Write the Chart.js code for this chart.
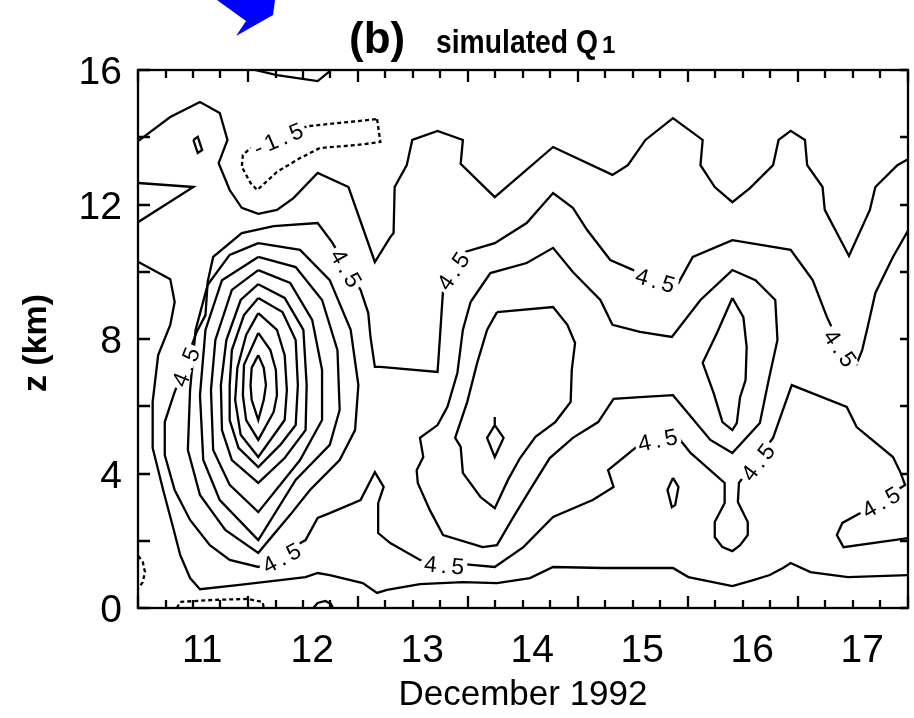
<!DOCTYPE html>
<html>
<head>
<meta charset="utf-8">
<title>simulated Q1</title>
<script src="https://cdn.jsdelivr.net/npm/chart.js@4.4.1/dist/chart.umd.min.js"></script>
<style>
  html, body { margin: 0; padding: 0; background: #ffffff; }
  #wrap { width: 914px; height: 718px; position: relative; }
</style>
</head>
<body>
<div id="wrap"><canvas id="chart"></canvas></div>
<script>
// Time axis in days of December 1992 (frame runs 10:00 to 10:00), height in km
const dayStart = 10 + 10 / 24;
const dayEnd = 17 + 10 / 24;
const dayLabels = [11, 12, 13, 14, 15, 16, 17];
const heightLabels = [0, 4, 8, 12, 16];
const heightTickStep = 2;     // km between height tick marks
const timeTickStep = 0.25;    // days between time tick marks

// Contour lines of Q1, each a list of [day, km] vertices
const contourUpper = [[10.42,13.89],[10.71,14.60],[10.98,15.05],[11.16,14.72],[11.23,13.92],[11.15,13.23],[11.25,12.43],[11.36,11.90],[11.51,11.72],[11.68,11.84],[11.83,12.19],[12.05,12.94],[12.33,12.52],[12.57,10.29],[12.71,11.03],[12.74,11.15],[12.75,12.52],[12.86,13.17],[12.91,13.92],[13.14,14.19],[13.37,13.92],[13.35,13.21],[13.66,12.22],[14.19,13.71],[14.73,12.88],[14.87,13.17],[15.03,13.92],[15.28,14.57],[15.55,13.92],[15.53,13.17],[15.66,12.52],[15.82,12.07],[15.98,12.49],[16.19,13.17],[16.24,13.92],[16.35,14.19],[16.48,13.92],[16.50,13.17],[16.64,12.52],[16.66,11.84],[16.88,10.47],[17.07,11.84],[17.12,12.52],[17.32,13.17],[17.42,13.35]];
const contourTopEdge = [[11.48,16.0],[11.68,15.85],[12.05,15.67],[12.15,15.94],[12.16,16.0]];
const contourSmallUpper = [[10.92,13.92],[10.96,14.01],[11.0,13.62],[10.96,13.53],[10.92,13.92]];
const contourWedge = [[10.42,12.64],[10.92,12.52],[10.42,11.48]];
const contourNeg15 = [[12.59,14.54],[12.62,13.86],[12.41,13.77],[12.07,13.68],[11.89,13.38],[11.68,12.97],[11.50,12.43],[11.44,12.64],[11.36,13.12],[11.37,13.47],[11.44,13.68],[11.96,14.33],[12.23,14.42],[12.59,14.54]];
const contourLower = [[10.42,10.29],[10.71,9.78],[10.75,9.10],[10.71,8.42],[10.60,7.52],[10.55,6.13],[10.55,4.76],[10.65,3.45],[10.73,2.47],[10.80,1.58],[10.89,0.89],[10.98,0.56],[11.32,0.68],[11.71,0.83],[11.94,0.92],[12.05,1.04],[12.16,0.98],[12.46,0.74],[12.59,0.45],[12.68,0.54],[12.98,0.71],[13.37,0.77],[13.68,0.74],[13.98,0.89],[14.19,1.22],[14.65,1.19],[15.28,1.19],[15.42,0.92],[15.82,0.65],[16.01,0.83],[16.16,0.98],[16.28,1.19],[16.35,1.34],[16.53,1.07],[16.87,0.92],[17.42,0.98]];
const contour45 = [[17.42,11.24],[17.28,10.44],[17.12,9.37],[17.05,8.36],[17.00,7.67],[16.95,7.26],[16.80,7.82],[16.68,8.65],[16.55,9.75],[16.35,10.65],[15.82,10.94],[15.46,10.44],[15.33,9.67],[14.92,10.05],[14.71,10.35],[14.50,11.24],[14.37,11.90],[14.19,12.34],[13.95,11.45],[13.66,10.85],[13.39,10.59],[13.19,9.46],[13.16,7.97],[13.14,7.02],[12.62,7.17],[12.57,7.17],[12.53,8.06],[12.51,8.77],[12.44,9.46],[12.18,10.88],[12.05,11.45],[11.65,11.36],[11.36,11.15],[11.10,10.44],[11.05,9.70],[11.03,8.71],[10.95,8.21],[10.74,6.33],[10.66,5.53],[10.66,4.55],[10.75,3.51],[10.89,2.62],[11.07,1.87],[11.25,1.43],[11.51,1.22],[11.94,2.02],[12.05,2.68],[12.16,2.82],[12.44,3.21],[12.57,4.04],[12.65,3.60],[12.60,3.12],[12.60,2.23],[12.71,1.93],[12.98,1.43],[13.45,1.28],[13.66,1.22],[13.92,1.81],[14.19,2.71],[14.55,3.21],[14.74,3.60],[14.69,4.10],[14.95,4.79],[15.33,5.06],[15.44,4.61],[15.75,3.72],[15.75,3.12],[15.66,2.56],[15.66,2.11],[15.73,1.81],[15.82,1.69],[15.89,1.87],[15.96,2.17],[15.96,2.56],[15.87,3.15],[15.88,3.72],[16.19,5.06],[16.27,5.80],[16.36,6.63],[16.86,5.98],[16.95,5.38],[17.28,4.49],[17.35,4.02],[17.39,3.66],[16.98,2.82],[16.82,2.53],[16.77,2.17],[16.83,1.81],[17.42,2.08]];

// Closed rings of the heating maximum on 11-12 December, innermost first
const peakRing1 = [[11.51,7.52],[11.56,7.14],[11.58,6.63],[11.56,6.19],[11.51,5.59],[11.45,6.19],[11.44,6.63],[11.45,7.14],[11.51,7.52]];
const peakRing2 = [[11.51,8.18],[11.62,7.67],[11.67,7.08],[11.68,6.33],[11.65,5.83],[11.51,5.00],[11.40,5.59],[11.37,6.33],[11.38,7.23],[11.51,8.18]];
const peakRing3 = [[11.51,8.77],[11.68,8.27],[11.75,7.52],[11.77,6.48],[11.75,5.59],[11.51,4.49],[11.35,5.15],[11.30,6.19],[11.32,7.14],[11.40,8.12],[11.51,8.77]];
const peakRing4 = [[11.51,9.22],[11.73,8.80],[11.85,7.97],[11.87,6.63],[11.85,5.44],[11.71,4.85],[11.51,4.19],[11.33,4.76],[11.25,5.59],[11.25,6.63],[11.27,7.67],[11.38,8.71],[11.51,9.22]];
const peakRing5 = [[11.51,9.63],[11.75,9.22],[11.92,8.27],[11.95,6.63],[11.94,5.29],[11.75,4.46],[11.51,3.72],[11.27,4.40],[11.18,5.29],[11.17,6.63],[11.22,7.97],[11.35,9.16],[11.51,9.63]];
const peakRing6 = [[11.51,10.05],[11.80,9.67],[12.00,8.57],[12.09,7.08],[12.09,5.59],[11.89,4.40],[11.51,2.85],[11.25,3.66],[11.10,4.70],[11.08,6.48],[11.12,7.97],[11.27,9.46],[11.51,10.05]];
const peakRing7 = [[11.51,10.44],[11.85,10.14],[12.09,9.16],[12.23,7.67],[12.25,5.89],[12.16,4.85],[11.85,3.81],[11.51,2.02],[11.16,3.21],[11.01,4.40],[10.98,6.33],[11.03,8.27],[11.18,9.75],[11.51,10.44]];
const peakRing8 = [[11.51,10.85],[11.89,10.65],[12.16,9.75],[12.35,8.27],[12.42,6.63],[12.39,5.29],[12.25,4.40],[11.98,3.51],[11.80,2.77],[11.51,1.64],[11.21,2.32],[10.98,3.36],[10.87,4.70],[10.89,6.48],[10.94,8.27],[11.05,9.61],[11.25,10.50],[11.51,10.85]];

// Rings over 13-16 December
const midDiamond = [[13.66,5.68],[13.66,5.44],[13.74,5.06],[13.66,4.49],[13.59,5.06],[13.66,5.44]];
const midRing = [[13.68,8.80],[14.19,8.95],[14.32,8.42],[14.39,7.88],[14.36,7.08],[14.35,6.13],[14.21,5.53],[14.03,5.09],[13.89,4.46],[13.78,3.81],[13.66,2.97],[13.53,3.30],[13.37,4.02],[13.35,4.79],[13.30,5.06],[13.41,6.13],[13.50,7.29],[13.59,8.27],[13.68,8.80]];
const twinRing = [[13.44,9.10],[13.62,9.96],[13.95,10.26],[14.19,10.71],[14.37,9.99],[14.62,9.16],[14.73,8.42],[14.98,8.21],[15.27,8.06],[15.53,9.16],[15.82,10.05],[16.03,9.75],[16.21,9.16],[16.23,7.97],[16.15,6.78],[16.07,5.50],[15.82,4.61],[15.62,5.00],[15.28,6.33],[14.98,6.27],[14.74,6.22],[14.60,5.53],[14.37,5.06],[14.16,4.46],[13.98,3.51],[13.83,2.71],[13.68,1.87],[13.55,1.81],[13.19,2.17],[13.07,2.91],[12.96,3.72],[12.95,4.10],[13.01,4.49],[12.98,5.06],[13.14,5.44],[13.23,5.98],[13.32,6.99],[13.37,8.27],[13.44,9.10]];
const rightRing = [[15.82,9.22],[15.92,8.65],[15.95,7.76],[15.94,6.78],[15.89,6.27],[15.86,5.50],[15.82,5.29],[15.73,5.53],[15.65,6.39],[15.55,7.29],[15.68,8.18],[15.82,9.22]];
const smallLoopLow = [[15.28,3.87],[15.33,3.60],[15.30,3.06],[15.27,3.00],[15.23,3.51],[15.28,3.87]];

// Near-surface pieces
const dashedLeftEdge = [[10.42,1.55],[10.46,1.37],[10.48,1.07],[10.46,0.77],[10.42,0.59]];
const dashedBottom = [[10.77,0],[10.80,0.18],[11.10,0.24],[11.41,0.27],[11.55,0.18],[11.56,0]];
const bumpBottom = [[12.01,0],[12.05,0.15],[12.12,0.21],[12.17,0.12],[12.19,0]];

// In-line contour labels: text, position [day, km], rotation in degrees
const labelTexts = ['4.5','4.5','4.5','4.5','4.5','4.5','4.5','4.5','4.5','4.5','-1.5'];
const labelDays = [16.80, 15.12, 13.28, 12.31, 10.85, 11.72, 13.20, 15.14, 16.05, 17.17, 11.69];
const labelHeights = [7.73, 9.75, 10.02, 10.11, 7.17, 1.49, 1.28, 5.00, 4.34, 3.15, 13.95];
const labelAngles = [55, 16, -56, 60, -68, -28, 5, -12, -53, -30, -23];

const FONT = '"Liberation Sans", Arial, Helvetica, sans-serif';

function contour(points, dash) {
  return {
    data: points.map(p => ({ x: p[0], y: p[1] })),
    showLine: true,
    borderColor: '#000000',
    borderWidth: 2.3,
    borderDash: dash || [],
    pointRadius: 0,
    pointHoverRadius: 0,
    fill: false,
    tension: 0
  };
}

const solid = [contourUpper, contourTopEdge, contourSmallUpper, contourWedge, contourLower, contour45,
  peakRing1, peakRing2, peakRing3, peakRing4, peakRing5, peakRing6, peakRing7, peakRing8,
  midDiamond, midRing, twinRing, rightRing, smallLoopLow, bumpBottom];
const dashed = [contourNeg15, dashedLeftEdge, dashedBottom];

const datasets = solid.map(p => contour(p)).concat(dashed.map(p => contour(p, [4, 3])));

// Labels that sit on the contours, with the line cut beneath them
const contourLabelPlugin = {
  id: 'contourLabels',
  afterDatasetsDraw(chart) {
    const ctx = chart.ctx, xs = chart.scales.x, ys = chart.scales.y;
    ctx.save();
    ctx.font = '23px ' + FONT;
    const gap = 4;
    labelTexts.forEach((txt, i) => {
      const px = xs.getPixelForValue(labelDays[i]);
      const py = ys.getPixelForValue(labelHeights[i]);
      const chars = txt.split('');
      const widths = chars.map(c => ctx.measureText(c).width);
      const total = widths.reduce((a, b) => a + b, 0) + gap * (chars.length - 1);
      ctx.save();
      ctx.translate(px, py);
      ctx.rotate(labelAngles[i] * Math.PI / 180);
      ctx.fillStyle = '#ffffff';
      ctx.fillRect(-total / 2 - 3, -7, total + 6, 14);
      ctx.fillStyle = '#000000';
      ctx.textBaseline = 'alphabetic';
      let x = -total / 2;
      chars.forEach((c, k) => {
        ctx.fillText(c, x, 8);
        x += widths[k] + gap;
      });
      ctx.restore();
    });
    ctx.restore();
  }
};

// Frame, inward tick marks, tick labels, axis titles and the panel title
const framePlugin = {
  id: 'frame',
  afterDraw(chart) {
    const ctx = chart.ctx, a = chart.chartArea, xs = chart.scales.x, ys = chart.scales.y;
    ctx.save();
    ctx.strokeStyle = '#000000';
    ctx.lineWidth = 2.3;
    ctx.lineCap = 'butt';
    ctx.strokeRect(a.left, a.top, a.right - a.left, a.bottom - a.top);

    ctx.beginPath();
    for (let z = 0; z <= 16; z += heightTickStep) {
      const y = Math.round(ys.getPixelForValue(z));
      ctx.moveTo(a.left, y); ctx.lineTo(a.left + 12, y);
      ctx.moveTo(a.right, y); ctx.lineTo(a.right - 8, y);
    }
    const nT = Math.round((dayEnd - dayStart) / timeTickStep);
    for (let i = 0; i <= nT; i++) {
      const x = Math.round(xs.getPixelForValue(dayStart + i * timeTickStep));
      const len = (i % 4 === 0) ? 12 : 8;
      ctx.moveTo(x, a.bottom); ctx.lineTo(x, a.bottom - len);
      ctx.moveTo(x, a.top); ctx.lineTo(x, a.top + len);
    }
    ctx.stroke();

    ctx.fillStyle = '#000000';
    ctx.font = '39px ' + FONT;
    ctx.textAlign = 'center';
    ctx.textBaseline = 'alphabetic';
    dayLabels.forEach(d => {
      ctx.fillText(String(d), xs.getPixelForValue(d), 662);
    });
    ctx.textAlign = 'right';
    heightLabels.forEach(z => {
      ctx.fillText(String(z), a.left - 16, ys.getPixelForValue(z) + 14);
    });

    ctx.textAlign = 'center';
    ctx.font = '35px ' + FONT;
    ctx.fillText('December 1992', (a.left + a.right) / 2, 705);

    ctx.save();
    ctx.translate(37, (a.top + a.bottom) / 2 + 4);
    ctx.rotate(-Math.PI / 2);
    ctx.font = 'bold 34px ' + FONT;
    ctx.textBaseline = 'middle';
    ctx.fillText('z (km)', 0, 0);
    ctx.restore();

    ctx.textAlign = 'left';
    ctx.textBaseline = 'alphabetic';
    ctx.font = 'bold 44px ' + FONT;
    ctx.fillText('(b)', 349, 53);
    ctx.font = 'bold 34px ' + FONT;
    ctx.fillText('simulated Q', 436, 53, 162);
    ctx.font = 'bold 24px ' + FONT;
    ctx.fillText('1', 602, 53);

    // blue arrow head reaching in from the panel above
    ctx.fillStyle = '#0000ff';
    ctx.beginPath();
    ctx.moveTo(217, 0); ctx.lineTo(275, 0); ctx.lineTo(273, 15);
    ctx.lineTo(236, 36); ctx.lineTo(246, 21); ctx.closePath();
    ctx.fill();
    ctx.restore();
  }
};

new Chart(document.getElementById('chart'), {
  type: 'scatter',
  data: { datasets },
  options: {
    responsive: true,
    maintainAspectRatio: false,
    animation: false,
    events: [],
    layout: { padding: { left: 138, top: 70, right: 6, bottom: 110 } },
    plugins: { legend: { display: false }, tooltip: { enabled: false }, title: { display: false } },
    scales: {
      x: { type: 'linear', min: dayStart, max: dayEnd, display: false },
      y: { type: 'linear', min: 0, max: 16, display: false }
    }
  },
  plugins: [contourLabelPlugin, framePlugin]
});
</script>
</body>
</html>
